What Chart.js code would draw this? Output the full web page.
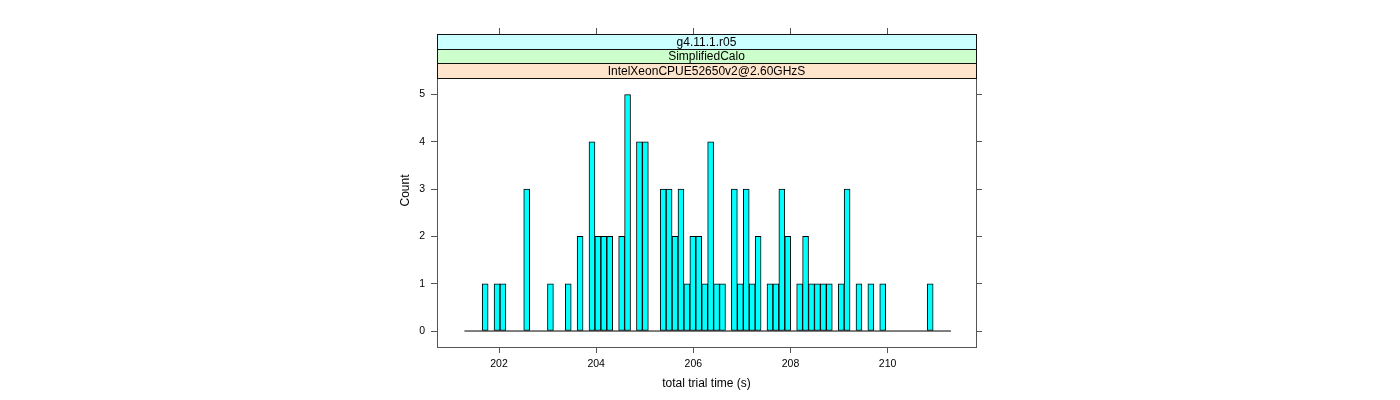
<!DOCTYPE html>
<html>
<head>
<meta charset="utf-8">
<script src="https://cdn.jsdelivr.net/npm/chart.js@4.4.1/dist/chart.umd.min.js"></script>
<style>
  html, body { margin: 0; padding: 0; background: #fff; }
</style>
</head>
<body>
<canvas id="myChart" width="1400" height="400"></canvas>
<script>
// histogram of total trial time: 82 equal bins starting at binStart
var binStart = 201.287;
var binWidth = 0.12216;
var counts = [0,0,0,1,0,1,1,0,0,0,
              3,0,0,0,1,0,0,1,0,2,
              0,4,2,2,2,0,2,5,0,4,
              4,0,0,3,3,2,3,1,2,2,
              1,4,1,1,0,3,1,3,1,2,
              0,1,1,3,2,0,1,2,1,1,
              1,1,0,1,3,0,1,0,1,0,
              1,0,0,0,0,0,0,0,1,0,
              0,0];
var xTicks = [202, 204, 206, 208, 210];
var yTicks = [0, 1, 2, 3, 4, 5];
var xRange = [200.723, 211.82];
var yRange = [-0.338, 6.281];
var stripLabels = ['g4.11.1.r05', 'SimplifiedCalo', 'IntelXeonCPUE52650v2@2.60GHzS'];
var stripColors = ['#ccffff', '#ccffcc', '#ffe5cc'];

var barData = counts.map(function (c, i) {
    return { x: binStart + (i + 0.5) * binWidth, y: c };
});
var baseData = [
    { x: binStart, y: 0 },
    { x: binStart + counts.length * binWidth, y: 0 }
];

Chart.defaults.font.family = "'Liberation Sans', Arial, sans-serif";
Chart.defaults.color = '#000';

var frameColor = '#555';

var stripPlugin = {
    id: 'strips',
    beforeDatasetsDraw: function (chart) {
        var ctx = chart.ctx, a = chart.chartArea;
        var h = 14.6;
        ctx.save();
        for (var i = 0; i < stripLabels.length; i++) {
            var y0 = Math.round(a.top + i * h);
            var y1 = Math.round(a.top + (i + 1) * h);
            var x0 = Math.round(a.left), x1 = Math.round(a.right);
            ctx.fillStyle = stripColors[i];
            ctx.fillRect(x0, y0, x1 - x0, y1 - y0);
            ctx.strokeStyle = '#111';
            ctx.lineWidth = 1;
            ctx.strokeRect(x0 + 0.5, y0 + 0.5, x1 - x0, y1 - y0);
            ctx.fillStyle = '#000';
            ctx.font = "12px 'Liberation Sans', Arial, sans-serif";
            ctx.textAlign = 'center';
            ctx.textBaseline = 'middle';
            ctx.fillText(stripLabels[i], (a.left + a.right) / 2, (y0 + y1) / 2 + 1);
        }
        ctx.restore();
    }
};

function fixedTicks(list) {
    return function (scale) {
        scale.ticks = list.map(function (v) { return { value: v }; });
    };
}

var ctx = document.getElementById('myChart').getContext('2d');
var myChart = new Chart(ctx, {
    type: 'bar',
    data: {
        datasets: [{
            type: 'line',
            data: baseData,
            borderColor: '#000',
            borderWidth: 1,
            pointRadius: 0,
            xAxisID: 'x',
            yAxisID: 'y',
            order: 2
        }, {
            label: 'Count',
            data: barData,
            backgroundColor: '#00ffff',
            borderColor: '#000',
            borderWidth: 1,
            borderSkipped: false,
            barPercentage: 1,
            categoryPercentage: 1,
            xAxisID: 'x',
            yAxisID: 'y',
            order: 1
        }]
    },
    options: {
        responsive: false,
        animation: false,
        devicePixelRatio: 1,
        layout: { padding: { left: 397, right: 414, top: 0, bottom: 0 } },
        plugins: {
            legend: { display: false },
            tooltip: { enabled: false }
        },
        scales: {
            x: {
                type: 'linear',
                position: 'bottom',
                min: xRange[0],
                max: xRange[1],
                offset: false,
                afterBuildTicks: fixedTicks(xTicks),
                afterFit: function (s) { s.height = 53; },
                grid: { offset: false, drawOnChartArea: false, tickLength: 6, color: frameColor },
                border: { display: true, color: frameColor },
                ticks: { padding: 5, maxRotation: 0, font: { size: 10.5 }, color: '#000' },
                title: { display: true, text: 'total trial time (s)', font: { size: 12 }, color: '#000', padding: { top: 0, bottom: 9 } }
            },
            xTop: {
                type: 'linear',
                position: 'top',
                min: xRange[0],
                max: xRange[1],
                offset: false,
                afterBuildTicks: fixedTicks(xTicks),
                afterFit: function (s) { s.height = 34; },
                grid: { offset: false, drawOnChartArea: false, tickLength: 6, color: frameColor },
                border: { display: true, color: frameColor },
                ticks: { display: false }
            },
            y: {
                type: 'linear',
                position: 'left',
                min: yRange[0],
                max: yRange[1],
                afterBuildTicks: fixedTicks(yTicks),
                afterFit: function (s) { s.width = 40; },
                grid: { drawOnChartArea: false, tickLength: 6, color: frameColor },
                border: { display: true, color: frameColor },
                ticks: { padding: 6, font: { size: 10.5 }, color: '#000' },
                title: { display: true, text: 'Count', font: { size: 12 }, color: '#000', padding: { top: 1, bottom: 0 } }
            },
            yRight: {
                type: 'linear',
                position: 'right',
                min: yRange[0],
                max: yRange[1],
                afterBuildTicks: fixedTicks(yTicks),
                afterFit: function (s) { s.width = 10; },
                grid: { drawOnChartArea: false, tickLength: 6, color: frameColor },
                border: { display: true, color: frameColor },
                ticks: { display: false }
            }
        }
    },
    plugins: [stripPlugin]
});
</script>
</body>
</html>
